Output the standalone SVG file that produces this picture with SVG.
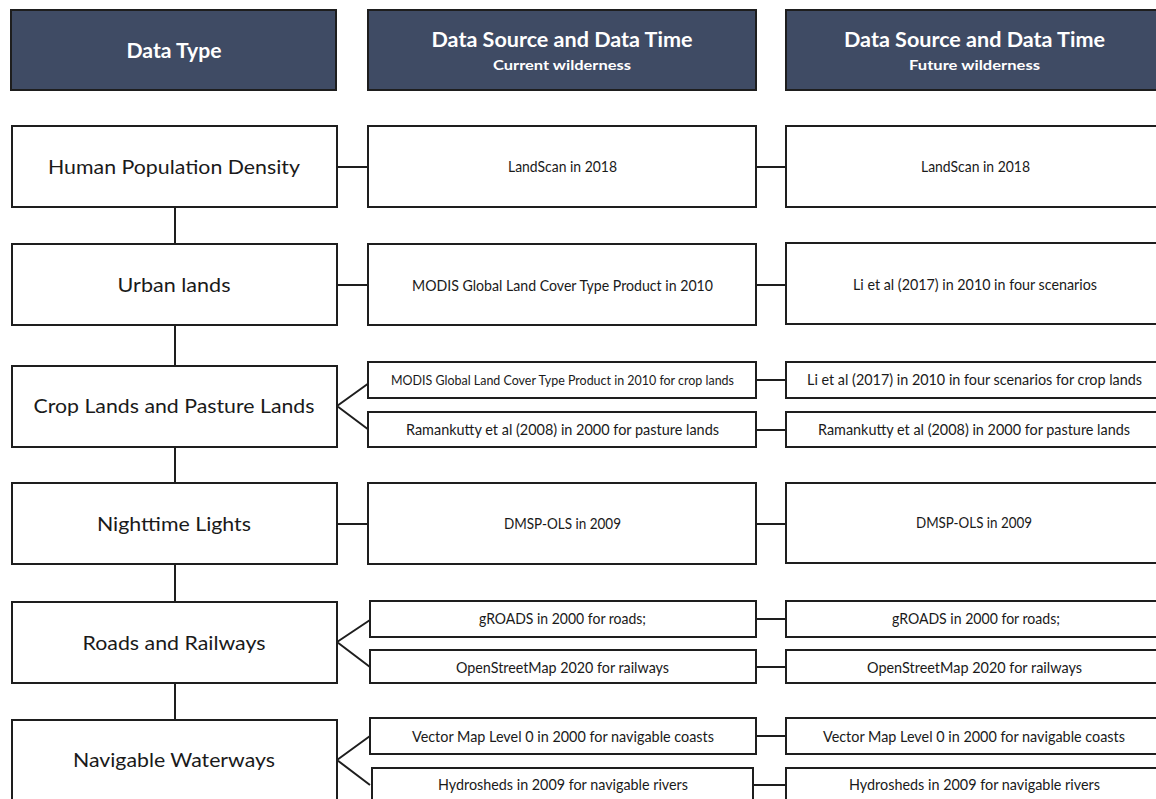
<svg xmlns="http://www.w3.org/2000/svg" width="1156" height="799" viewBox="0 0 1156 799">
<style>
.hdr{fill:#3f4b64;stroke:#1e1e1e;stroke-width:2}
.box{fill:#ffffff;stroke:#1e1e1e;stroke-width:2}
.ht{font-family:Lato,"Liberation Sans",sans-serif;font-weight:bold;fill:#ffffff;text-anchor:middle}
.lt{font-family:Lato,"Liberation Sans",sans-serif;font-size:20px;fill:#1a1a1a;text-anchor:middle}
.mt{font-family:Lato,"Liberation Sans",sans-serif;font-size:15px;fill:#1a1a1a;text-anchor:middle}
.st{font-family:Lato,"Liberation Sans",sans-serif;font-size:13px;fill:#1a1a1a;text-anchor:middle}
.con{fill:none;stroke:#1e1e1e;stroke-width:2}
</style>
<rect width="1156" height="799" fill="#ffffff"/>
<g id="connectors">
<path class="con" d="M175 207V244M175 325V366M175 447V483M175 564V602M175 683V720"/>
<path class="con" d="M337 167H368M337 285H368M337 524H368"/>
<path class="con" d="M337 406L369 383M337 406L369 430"/>
<path class="con" d="M337 642L370 620M337 642L370 667"/>
<path class="con" d="M337 760L370 736M337 760L370 785"/>
<path class="con" d="M756 167H786M756 285H786M756 380H786M756 430H786M756 524H786M756 619H786M756 667H786M756 736H786M753 785H786"/>
</g>
<g id="hdr-type"><rect class="hdr" x="11" y="10" width="325" height="80"/><text class="ht" x="174" y="58" font-size="20" textLength="95" lengthAdjust="spacingAndGlyphs">Data Type</text></g>
<g id="hdr-current"><rect class="hdr" x="368" y="10" width="388" height="80"/><text class="ht" x="562" y="47" font-size="20" textLength="261" lengthAdjust="spacingAndGlyphs">Data Source and Data Time</text><text class="ht" x="562" y="70" font-size="14" textLength="138" lengthAdjust="spacingAndGlyphs">Current wilderness</text></g>
<g id="hdr-future"><rect class="hdr" x="786" y="10" width="378" height="80"/><text class="ht" x="974.5" y="47" font-size="20" textLength="261" lengthAdjust="spacingAndGlyphs">Data Source and Data Time</text><text class="ht" x="974.5" y="70" font-size="14" textLength="131" lengthAdjust="spacingAndGlyphs">Future wilderness</text></g>

<g id="type-population"><rect class="box" x="12" y="126" width="325" height="81"/><text class="lt" x="174" y="174" textLength="252" lengthAdjust="spacingAndGlyphs">Human Population Density</text></g>
<g id="type-urban"><rect class="box" x="12" y="244" width="325" height="81"/><text class="lt" x="174" y="292" textLength="113" lengthAdjust="spacingAndGlyphs">Urban lands</text></g>
<g id="type-crop"><rect class="box" x="12" y="366" width="325" height="81"/><text class="lt" x="174" y="413" textLength="281" lengthAdjust="spacingAndGlyphs">Crop Lands and Pasture Lands</text></g>
<g id="type-night"><rect class="box" x="12" y="483" width="325" height="81"/><text class="lt" x="174" y="531" textLength="154" lengthAdjust="spacingAndGlyphs">Nighttime Lights</text></g>
<g id="type-roads"><rect class="box" x="12" y="602" width="325" height="81"/><text class="lt" x="174" y="650" textLength="183" lengthAdjust="spacingAndGlyphs">Roads and Railways</text></g>
<g id="type-water"><rect class="box" x="12" y="720" width="325" height="90"/><text class="lt" x="174" y="767" textLength="202" lengthAdjust="spacingAndGlyphs">Navigable Waterways</text></g>

<g id="cur-population"><rect class="box" x="368" y="126" width="388" height="81"/><text class="mt" x="562.5" y="172" textLength="109" lengthAdjust="spacingAndGlyphs">LandScan in 2018</text></g>
<g id="cur-urban"><rect class="box" x="368" y="244" width="388" height="81"/><text class="mt" x="562.5" y="291" textLength="301" lengthAdjust="spacingAndGlyphs">MODIS Global Land Cover Type Product in 2010</text></g>
<g id="cur-crop"><rect class="box" x="368" y="362" width="388" height="36"/><text class="st" x="562.5" y="385" textLength="343" lengthAdjust="spacingAndGlyphs">MODIS Global Land Cover Type Product in 2010 for crop lands</text></g>
<g id="cur-pasture"><rect class="box" x="368" y="412" width="388" height="35"/><text class="mt" x="562.5" y="435" textLength="313" lengthAdjust="spacingAndGlyphs">Ramankutty et al (2008) in 2000 for pasture lands</text></g>
<g id="cur-night"><rect class="box" x="368" y="483" width="388" height="81"/><text class="mt" x="562.5" y="529" textLength="117" lengthAdjust="spacingAndGlyphs">DMSP-OLS in 2009</text></g>
<g id="cur-roads"><rect class="box" x="370" y="601" width="386" height="36"/><text class="mt" x="562.5" y="624" textLength="167" lengthAdjust="spacingAndGlyphs">gROADS in 2000 for roads;</text></g>
<g id="cur-rail"><rect class="box" x="370" y="650" width="386" height="33"/><text class="mt" x="562.5" y="673" textLength="213" lengthAdjust="spacingAndGlyphs">OpenStreetMap 2020 for railways</text></g>
<g id="cur-coasts"><rect class="box" x="370" y="718" width="386" height="36"/><text class="mt" x="563" y="742" textLength="302" lengthAdjust="spacingAndGlyphs">Vector Map Level 0 in 2000 for navigable coasts</text></g>
<g id="cur-rivers"><rect class="box" x="372" y="768" width="381" height="40"/><text class="mt" x="563" y="790" textLength="250" lengthAdjust="spacingAndGlyphs">Hydrosheds in 2009 for navigable rivers</text></g>

<g id="fut-population"><rect class="box" x="786" y="126" width="378" height="81"/><text class="mt" x="975.5" y="172" textLength="109" lengthAdjust="spacingAndGlyphs">LandScan in 2018</text></g>
<g id="fut-urban"><rect class="box" x="786" y="243" width="378" height="81"/><text class="mt" x="975" y="290" textLength="244" lengthAdjust="spacingAndGlyphs">Li et al (2017) in 2010 in four scenarios</text></g>
<g id="fut-crop"><rect class="box" x="786" y="362" width="378" height="36"/><text class="mt" x="974.5" y="385" textLength="335" lengthAdjust="spacingAndGlyphs">Li et al (2017) in 2010 in four scenarios for crop lands</text></g>
<g id="fut-pasture"><rect class="box" x="786" y="412" width="378" height="35"/><text class="mt" x="974" y="435" textLength="312" lengthAdjust="spacingAndGlyphs">Ramankutty et al (2008) in 2000 for pasture lands</text></g>
<g id="fut-night"><rect class="box" x="786" y="483" width="378" height="80"/><text class="mt" x="974" y="528" textLength="116" lengthAdjust="spacingAndGlyphs">DMSP-OLS in 2009</text></g>
<g id="fut-roads"><rect class="box" x="786" y="601" width="378" height="36"/><text class="mt" x="976" y="624" textLength="168" lengthAdjust="spacingAndGlyphs">gROADS in 2000 for roads;</text></g>
<g id="fut-rail"><rect class="box" x="786" y="650" width="378" height="33"/><text class="mt" x="974.5" y="673" textLength="215" lengthAdjust="spacingAndGlyphs">OpenStreetMap 2020 for railways</text></g>
<g id="fut-coasts"><rect class="box" x="786" y="718" width="378" height="36"/><text class="mt" x="974" y="742" textLength="302" lengthAdjust="spacingAndGlyphs">Vector Map Level 0 in 2000 for navigable coasts</text></g>
<g id="fut-rivers"><rect class="box" x="786" y="768" width="378" height="40"/><text class="mt" x="974.5" y="790" textLength="251" lengthAdjust="spacingAndGlyphs">Hydrosheds in 2009 for navigable rivers</text></g>
</svg>
